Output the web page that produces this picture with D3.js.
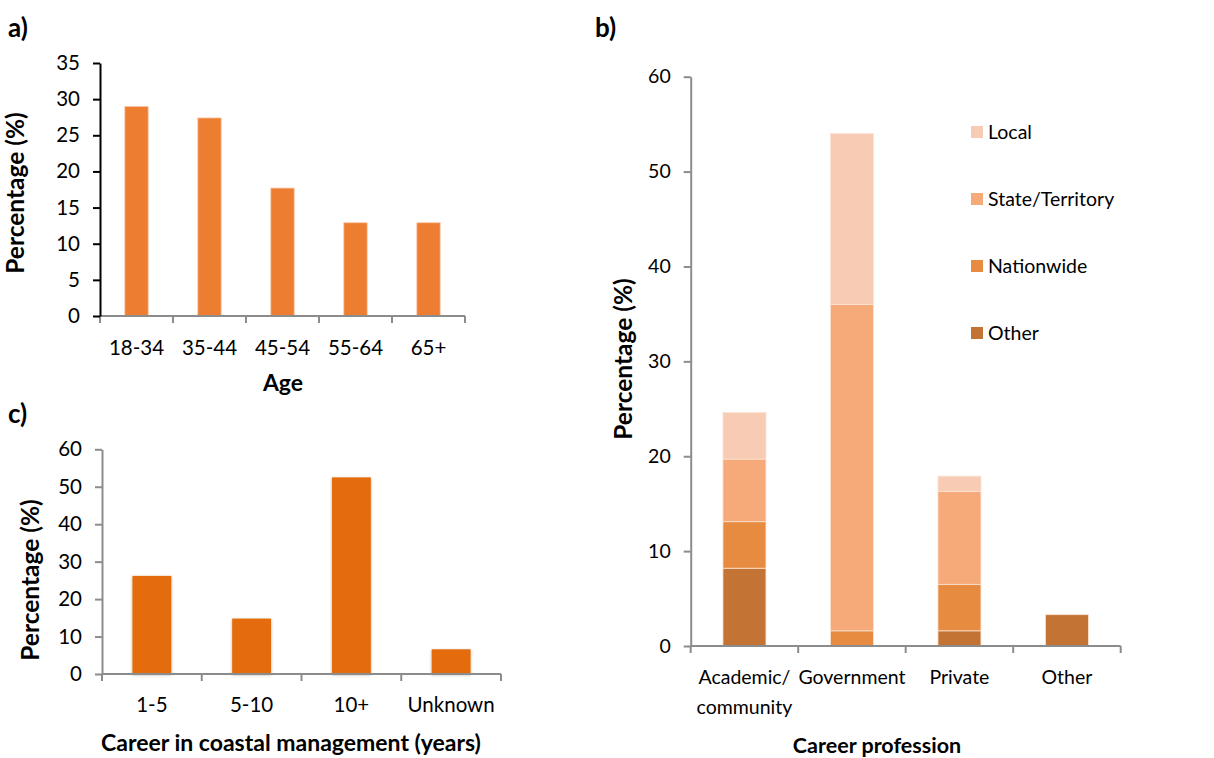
<!DOCTYPE html>
<html>
<head>
<meta charset="utf-8">
<script src="https://cdn.jsdelivr.net/npm/d3@7"></script>
<style>
  body { margin: 0; background: #fff; }
  svg { display: block; }
  text { font-family: Lato, "Open Sans", sans-serif; fill: #000; }
  .title { font-size: 23px; font-weight: bold; }
  .ytitle { font-size: 24.5px; font-weight: bold; }
  .tag { font-size: 26px; font-weight: bold; }
</style>
</head>
<body>
<svg id="svg" width="1214" height="758"></svg>
<script>
// panel a) age
var ageCats = ["18-34", "35-44", "45-54", "55-64", "65+"];
var ageVals = [29.0, 27.4, 17.7, 12.9, 12.9];
var ageTicks = [0, 5, 10, 15, 20, 25, 30, 35];

// panel c) career length
var careerCats = ["1-5", "5-10", "10+", "Unknown"];
var careerVals = [26.2, 14.8, 52.5, 6.6];
var careerTicks = [0, 10, 20, 30, 40, 50, 60];

// panel b) profession, stacked
var profCats = ["Academic/ community", "Government", "Private", "Other"];
var profKeys = ["Other", "Nationwide", "State/Territory", "Local"];
var profOther = [8.2, 0, 1.6, 3.3];
var profNation = [4.9, 1.6, 4.9, 0];
var profState = [6.6, 34.4, 9.8, 0];
var profLocal = [4.9, 18.0, 1.6, 0];
var profTicks = [0, 10, 20, 30, 40, 50, 60];

var svg = d3.select("#svg");

function yAxis(g, y, ticks, pad, color, fs) {
  g.call(d3.axisLeft(y).tickValues(ticks).tickSize(7).tickSizeOuter(0).tickPadding(pad));
  g.attr("font-family", null).attr("font-size", null);
  g.select(".domain").attr("stroke", color).attr("stroke-width", 2);
  g.selectAll(".tick line").attr("stroke", color).attr("stroke-width", 2);
  g.selectAll(".tick text").attr("fill", "#000").style("font-size", fs + "px");
}

// bottom axis with excel style ticks between categories
function xAxis(g, x, y0, color) {
  g.append("line")
    .attr("x1", x.range()[0]).attr("x2", x.range()[1])
    .attr("y1", y0).attr("y2", y0)
    .attr("stroke", color).attr("stroke-width", 2);
  var edges = x.domain().map(function(d) { return x(d); }).concat([x.range()[1]]);
  g.selectAll(".edge").data(edges).enter().append("line")
    .attr("x1", function(d) { return d; }).attr("x2", function(d) { return d; })
    .attr("y1", y0).attr("y2", y0 + 7)
    .attr("stroke", color).attr("stroke-width", 2);
}

function catLabels(g, x, y0, dy, fs) {
  g.selectAll(".lab").data(x.domain()).enter().append("text")
    .attr("class", "lab")
    .attr("text-anchor", "middle")
    .style("font-size", fs + "px")
    .attr("x", function(d) { return x(d) + x.bandwidth() / 2; })
    .attr("y", y0 + dy)
    .each(function(d) {
      var parts = d.split(" ");
      var t = d3.select(this);
      parts.forEach(function(p, i) {
        t.append("tspan").attr("x", x(d) + x.bandwidth() / 2).attr("dy", i ? 30 : 0).text(p);
      });
    });
}

/* ---------- a) ---------- */
var xa = d3.scaleBand().domain(ageCats).range([100, 465]);
var ya = d3.scaleLinear().domain([0, 35]).range([316, 63]);
var ga = svg.append("g");

ga.selectAll(".bar").data(ageVals).enter().append("rect")
  .attr("x", function(d, i) { return xa(ageCats[i]) + xa.bandwidth() * 0.34; })
  .attr("width", xa.bandwidth() * 0.32)
  .attr("y", function(d) { return ya(d); })
  .attr("height", function(d) { return ya(0) - ya(d); })
  .attr("fill", "#ED7D31")
  .attr("stroke", "#F8C9A8").attr("stroke-width", 0.8);

xAxis(ga, xa, 316, "#8C8C8C");
ga.append("g").attr("transform", "translate(100,0)").call(yAxis, ya, ageTicks, 13, "#000", 20.5);
catLabels(ga, xa, 316, 39, 20.5);
ga.append("text").attr("class", "title").attr("x", 283).attr("y", 391).attr("text-anchor", "middle").text("Age");
ga.append("text").attr("class", "ytitle").attr("text-anchor", "middle")
  .attr("transform", "translate(24,193) rotate(-90)").text("Percentage (%)");
ga.append("text").attr("class", "tag").attr("x", 8).attr("y", 37).text("a)");

/* ---------- c) ---------- */
var xc = d3.scaleBand().domain(careerCats).range([102, 501]);
var yc = d3.scaleLinear().domain([0, 60]).range([674, 449.3]);
var gc = svg.append("g");

var defs = svg.append("defs");
var sh = defs.append("filter").attr("id", "shadow").attr("x", "-20%").attr("y", "-10%").attr("width", "140%").attr("height", "120%");
sh.append("feDropShadow").attr("dx", 0).attr("dy", 1).attr("stdDeviation", 1.5).attr("flood-color", "#000").attr("flood-opacity", 0.3);

gc.selectAll(".bar").data(careerVals).enter().append("rect")
  .attr("x", function(d, i) { return xc(careerCats[i]) + xc.bandwidth() * 0.305; })
  .attr("width", xc.bandwidth() * 0.39)
  .attr("y", function(d) { return yc(d); })
  .attr("height", function(d) { return yc(0) - yc(d); })
  .attr("fill", "#E46C0A")
  .attr("filter", "url(#shadow)");

xAxis(gc, xc, 674, "#8C8C8C");
gc.append("g").attr("transform", "translate(102,0)").call(yAxis, yc, careerTicks, 13, "#8C8C8C", 20.5);
catLabels(gc, xc, 674, 38, 20.5);
gc.append("text").attr("class", "title").attr("x", 291).attr("y", 751).attr("text-anchor", "middle")
  .text("Career in coastal management (years)");
gc.append("text").attr("class", "ytitle").attr("text-anchor", "middle")
  .attr("transform", "translate(39,580) rotate(-90)").text("Percentage (%)");
gc.append("text").attr("class", "tag").attr("x", 8).attr("y", 423).text("c)");

/* ---------- b) ---------- */
var xb = d3.scaleBand().domain(profCats).range([690.7, 1120.7]);
var yb = d3.scaleLinear().domain([0, 60]).range([646, 76.7]);
var color = d3.scaleOrdinal().domain(profKeys).range(["#C37434", "#E68B40", "#F7AA79", "#F8CBB4"]);
var gb = svg.append("g");

var rows = profCats.map(function(c, i) {
  return { cat: c, "Other": profOther[i], "Nationwide": profNation[i], "State/Territory": profState[i], "Local": profLocal[i] };
});
var stack = d3.stack().keys(profKeys)(rows);

gb.selectAll(".layer").data(stack).enter().append("g")
  .attr("fill", function(d) { return color(d.key); })
  .selectAll("rect").data(function(d) { return d.filter(function(s) { return s[1] - s[0] > 0; }); })
  .enter().append("rect")
  .attr("x", function(d) { return xb(d.data.cat) + xb.bandwidth() * 0.3; })
  .attr("width", xb.bandwidth() * 0.4)
  .attr("y", function(d) { return yb(d[1]); })
  .attr("height", function(d) { return yb(d[0]) - yb(d[1]); })
  .attr("stroke", "#fbe3d3").attr("stroke-width", 0.8);

xAxis(gb, xb, 646, "#8C8C8C");
gb.append("g").attr("transform", "translate(690.7,0)").call(yAxis, yb, profTicks, 13, "#8C8C8C", 19.5);
catLabels(gb, xb, 646, 38, 19.5);
gb.append("text").attr("class", "title").attr("x", 877).attr("y", 753).attr("text-anchor", "middle")
  .style("font-size", "21.5px").text("Career profession");
gb.append("text").attr("class", "ytitle").attr("text-anchor", "middle")
  .attr("transform", "translate(632,359) rotate(-90)").text("Percentage (%)");
gb.append("text").attr("class", "tag").attr("x", 595).attr("y", 37).text("b)");

// legend, top to bottom: Local .. Other
var legKeys = profKeys.slice().reverse();
var leg = gb.selectAll(".leg").data(legKeys).enter().append("g")
  .attr("transform", function(d, i) { return "translate(971," + (132 + i * 67) + ")"; });
leg.append("rect").attr("x", 0).attr("y", -6).attr("width", 12).attr("height", 12)
  .attr("fill", function(d) { return color(d); });
leg.append("text").attr("x", 17).attr("y", 7).style("font-size", "19.5px").text(function(d) { return d; });
</script>
</body>
</html>
